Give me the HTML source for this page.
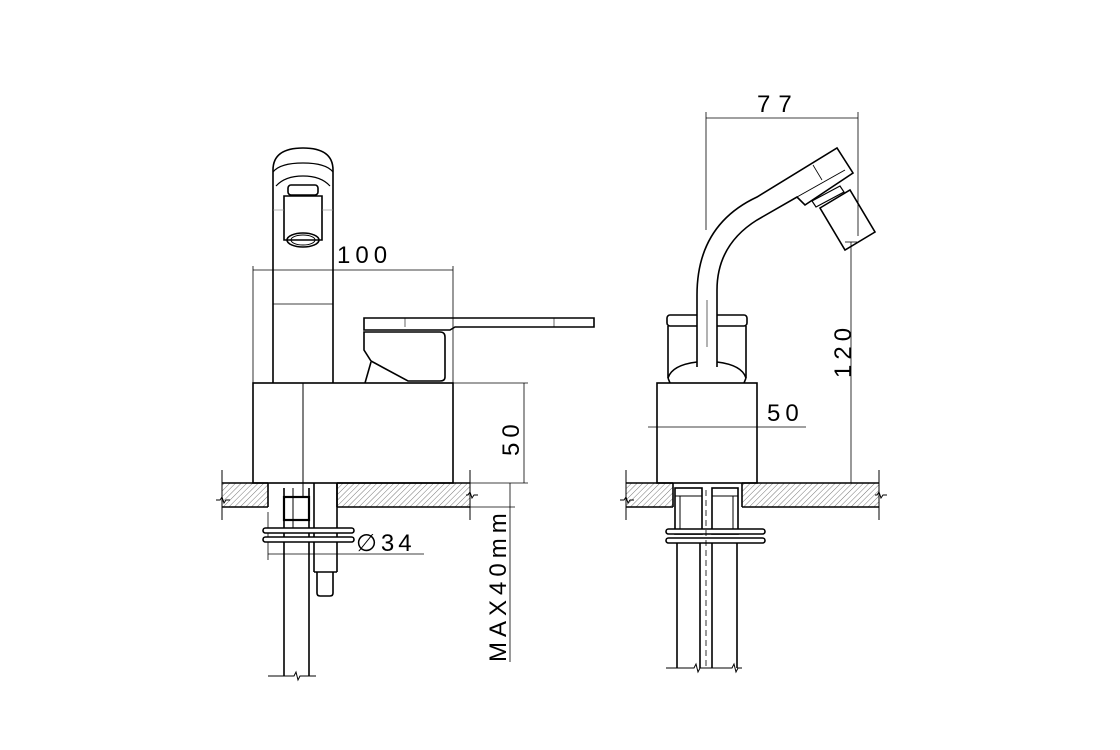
<!DOCTYPE html>
<html><head><style>
html,body{margin:0;padding:0;background:#fff;}
svg{display:block;}
text{font-family:"Liberation Sans",sans-serif;fill:#000;}
</style></head><body>
<svg width="1120" height="750" viewBox="0 0 1120 750" xmlns="http://www.w3.org/2000/svg">
<defs>
<pattern id="h" width="4" height="4" patternUnits="userSpaceOnUse" patternTransform="rotate(45)">
<line x1="0" y1="0" x2="0" y2="4" stroke="#555" stroke-width="0.8"/>
</pattern>
</defs>
<g fill="none" stroke="#000" stroke-width="1.6">
<!-- LEFT VIEW -->
<rect x="222" y="483" width="46" height="24" fill="url(#h)" stroke="none"/>
<rect x="337" y="483" width="133" height="24" fill="url(#h)" stroke="none"/>
<line x1="222" y1="483" x2="268" y2="483"/><line x1="222" y1="507" x2="268" y2="507"/>
<line x1="337" y1="483" x2="470" y2="483"/><line x1="337" y1="507" x2="470" y2="507"/>
<line x1="268" y1="483" x2="268" y2="507"/><line x1="337" y1="483" x2="337" y2="507"/>
<line x1="222" y1="470" x2="222" y2="520" stroke-width="1"/>
<line x1="470" y1="470" x2="470" y2="520" stroke-width="1"/>
<path d="M216 500 l4 0 l2 -3 l2 6 l2 -3 l4 0" stroke-width="1"/>
<path d="M466 495 l2 0 l2 -3 l2 6 l2 -3 l4 0" stroke-width="1"/>
<rect x="253" y="383" width="200" height="100"/>
<line x1="303" y1="383" x2="303" y2="497" stroke-width="1"/>
<path d="M273 383 V170 Q273 148 303 148 Q333 148 333 170 V383"/>
<path d="M273 172 Q280 163 303 163 Q326 163 333 172" stroke-width="1.2"/>
<path d="M276 186 Q285 176 303 176 Q321 176 330 186" stroke-width="1.2"/>
<rect x="288" y="185" width="30" height="10" rx="3"/>
<path d="M284 196 H322 V240 H284 Z"/>
<ellipse cx="303" cy="240" rx="16" ry="7"/>
<ellipse cx="303" cy="240" rx="12" ry="5" stroke-width="1"/>
<line x1="273" y1="210" x2="284" y2="210" stroke-width="0.6" stroke="#888"/>
<line x1="322" y1="210" x2="333" y2="210" stroke-width="0.6" stroke="#888"/>
<line x1="273" y1="304" x2="333" y2="304" stroke-width="0.8"/>
<path d="M364 318 H594 V327 H455 L450 330 H364 Z"/>
<line x1="405" y1="318" x2="405" y2="327" stroke-width="0.6"/>
<line x1="554" y1="318" x2="554" y2="327" stroke-width="0.6"/>
<path d="M364 332 H440 Q445 332 445 337 V377 Q445 381 440 381 H408 L371 361 L364 350 Z"/>
<line x1="371" y1="362" x2="365" y2="383"/>
<g stroke-width="0.8">
<line x1="253" y1="266" x2="253" y2="383"/>
<line x1="453" y1="266" x2="453" y2="383"/>
<line x1="253" y1="270" x2="453" y2="270"/>
<line x1="453" y1="383" x2="528" y2="383"/>
<line x1="470" y1="483" x2="528" y2="483"/>
<line x1="524" y1="383" x2="524" y2="483"/>
<line x1="470" y1="507" x2="515" y2="507"/>
<line x1="510" y1="483" x2="510" y2="662"/>
<line x1="268" y1="512" x2="268" y2="560"/>
<line x1="337" y1="512" x2="337" y2="560"/>
<line x1="268" y1="554" x2="424" y2="554"/>
</g>
<line x1="284" y1="488" x2="284" y2="676"/>
<line x1="309" y1="488" x2="309" y2="676"/>
<rect x="284" y="497" width="25" height="23" stroke-width="2.2"/>
<line x1="293" y1="488" x2="293" y2="530" stroke-width="1"/>
<line x1="314" y1="483" x2="314" y2="572"/>
<line x1="337" y1="483" x2="337" y2="572"/>
<line x1="314" y1="572" x2="337" y2="572"/>
<path d="M317 572 V593 Q317 596 320 596 H330 Q333 596 333 593 V572"/>
<rect x="263" y="528" width="91" height="5" rx="2.5" fill="#fff"/>
<rect x="263" y="537" width="91" height="5" rx="2.5" fill="#fff"/>
<path d="M268 676 H294 l2 -4 l2 8 l2 -4 H316" stroke-width="1"/>

<!-- RIGHT VIEW -->
<rect x="626" y="483" width="47" height="24" fill="url(#h)" stroke="none"/>
<rect x="742" y="483" width="137" height="24" fill="url(#h)" stroke="none"/>
<line x1="626" y1="483" x2="673" y2="483"/><line x1="626" y1="507" x2="673" y2="507"/>
<line x1="742" y1="483" x2="879" y2="483"/><line x1="742" y1="507" x2="879" y2="507"/>
<line x1="673" y1="483" x2="673" y2="507"/><line x1="742" y1="483" x2="742" y2="507"/>
<line x1="626" y1="470" x2="626" y2="520" stroke-width="1"/>
<line x1="879" y1="470" x2="879" y2="520" stroke-width="1"/>
<path d="M620 500 l4 0 l2 -3 l2 6 l2 -3 l4 0" stroke-width="1"/>
<path d="M875 495 l2 0 l2 -3 l2 6 l2 -3 l4 0" stroke-width="1"/>
<rect x="657" y="383" width="100" height="100"/>
<!-- cartridge -->
<rect x="667" y="315" width="80" height="11" rx="3"/>
<line x1="668" y1="326" x2="668" y2="378"/>
<line x1="746" y1="326" x2="746" y2="378"/>
<path d="M668 378 Q672 365 697 362" />
<path d="M717 362 Q742 365 746 378"/>
<line x1="668" y1="378" x2="670" y2="383"/><line x1="746" y1="378" x2="744" y2="383"/>
<!-- spout -->
<path d="M697 367 V295 Q697 225 757 197 L837 148 L853 173 L805 205 L797 197 L757 220 Q717 245 717 290 V367" fill="#fff"/>
<line x1="813" y1="165" x2="822" y2="180" stroke-width="0.8"/>
<line x1="797" y1="197" x2="845" y2="170" stroke-width="1"/>
<path d="M812 201 L840 186 L844 192 L816 207 Z" fill="#fff" stroke-width="1.2"/>
<path d="M820 208 L850 190 L875 232 L845 250 Z" fill="#fff"/>
<line x1="707" y1="300" x2="707" y2="347" stroke-width="0.6"/>
<g stroke-width="0.8">
<line x1="706" y1="112" x2="706" y2="230"/>
<line x1="858" y1="112" x2="858" y2="236"/>
<line x1="706" y1="118" x2="858" y2="118"/>
<line x1="851" y1="242" x2="851" y2="483"/>
<line x1="845" y1="242" x2="857" y2="242"/>
<line x1="648" y1="427" x2="806" y2="427"/>
</g>
<rect x="675" y="488" width="27" height="46"/>
<rect x="712" y="488" width="26" height="46"/>
<line x1="675" y1="496" x2="702" y2="496" stroke-width="1"/>
<line x1="712" y1="496" x2="738" y2="496" stroke-width="1"/>
<line x1="680" y1="496" x2="680" y2="534" stroke-width="1"/>
<line x1="733" y1="496" x2="733" y2="534" stroke-width="1"/>
<rect x="666" y="529" width="99" height="5" rx="2.5" fill="#fff"/>
<rect x="666" y="538" width="99" height="5" rx="2.5" fill="#fff"/>
<line x1="677" y1="543" x2="677" y2="668"/>
<line x1="700" y1="543" x2="700" y2="668"/>
<line x1="712" y1="543" x2="712" y2="668"/>
<line x1="737" y1="543" x2="737" y2="668"/>
<line x1="706" y1="490" x2="706" y2="668" stroke-width="0.8" stroke-dasharray="6 4"/>
<path d="M666 668 H694 l2 -4 l2 8 l2 -4 H732 l2 -4 l2 8 l2 -4 H742" stroke-width="1"/>
</g>
<text x="337" y="263" font-size="24" letter-spacing="5">100</text>
<text transform="translate(519,456) rotate(-90)" font-size="24" letter-spacing="5">50</text>
<text transform="translate(506,662) rotate(-90)" font-size="24" letter-spacing="5">MAX40mm</text>
<text x="356" y="551" font-size="24" letter-spacing="4">∅34</text>
<text x="757" y="112" font-size="24" letter-spacing="8">77</text>
<text transform="translate(851,378) rotate(-90)" font-size="24" letter-spacing="5">120</text>
<text x="767" y="421" font-size="24" letter-spacing="5">50</text>
</svg>
</body></html>
